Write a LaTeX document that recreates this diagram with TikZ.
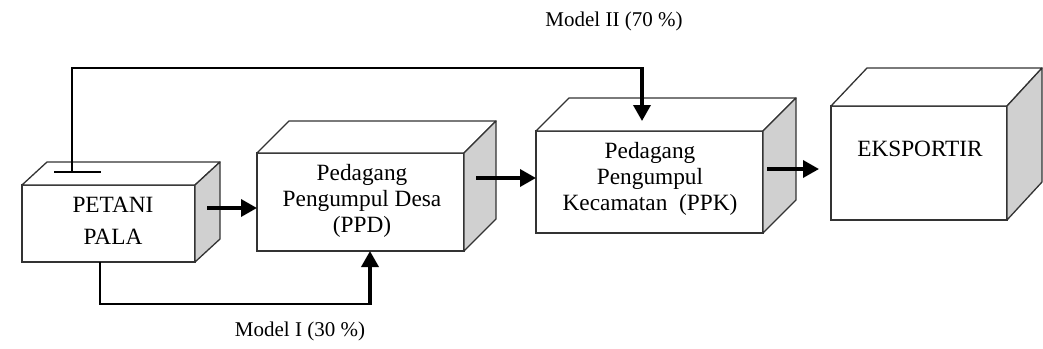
\documentclass[tikz,border=0pt]{standalone}
\usepackage{fontspec}
\setmainfont{Liberation Serif}
\usetikzlibrary{arrows.meta}
\definecolor{boxgray}{HTML}{333333}
\definecolor{sidegray}{HTML}{D0D0D0}
\begin{document}
\begin{tikzpicture}[x=1pt,y=-1pt,
  face/.style={draw=boxgray, line width=1.3pt, fill=white, inner sep=0pt, outer sep=0pt, anchor=north west},
  faceline/.style={draw=boxgray, line width=1.3pt, line join=round},
  flow/.style={line width=3.5pt, -{Triangle[length=16pt,width=17pt]}},
  link/.style={line width=1.6pt, line join=miter},
  lbl/.style={font=\fontsize{23.3}{26}\selectfont, align=center, inner sep=0pt},
  mlbl/.style={font=\fontsize{21}{24}\selectfont, inner sep=0pt}]
\useasboundingbox (0,0) rectangle (1043,348);
% Box 1
\node[face, minimum width=173pt, minimum height=77pt] (b1) at (22,185) {};
\draw[faceline, fill=white] (b1.north west) -- ++(25,-23) -- ++(173,0) -- (b1.north east) -- cycle;
\draw[faceline, fill=sidegray] (b1.north east) -- ++(25,-23) -- ++(0,77) -- (b1.south east) -- cycle;
% Box 2
\node[face, minimum width=207pt, minimum height=98pt] (b2) at (257,153) {};
\draw[faceline, fill=white] (b2.north west) -- ++(32,-32) -- ++(207,0) -- (b2.north east) -- cycle;
\draw[faceline, fill=sidegray] (b2.north east) -- ++(32,-32) -- ++(0,98) -- (b2.south east) -- cycle;
% Box 3
\node[face, minimum width=227pt, minimum height=102pt] (b3) at (536,131) {};
\draw[faceline, fill=white] (b3.north west) -- ++(33,-33) -- ++(227,0) -- (b3.north east) -- cycle;
\draw[faceline, fill=sidegray] (b3.north east) -- ++(33,-33) -- ++(0,102) -- (b3.south east) -- cycle;
% Box 4
\node[face, minimum width=176pt, minimum height=114pt] (b4) at (831,106) {};
\draw[faceline, fill=white] (b4.north west) -- ++(36,-38) -- ++(175,0) -- (b4.north east) -- cycle;
\draw[faceline, fill=sidegray] (b4.north east) -- ++(35,-38) -- ++(0,114) -- (b4.south east) -- cycle;
% Texts
\node[lbl, font=\fontsize{23.3}{32}\selectfont] (t1) at (113,221) {PETANI\\PALA};
\node[lbl] (t2) at (362,201) {Pedagang\\Pengumpul Desa\\(PPD)};
\node[lbl] (t3) at (650,179) {Pedagang\\Pengumpul\\Kecamatan\ \ (PPK)};
\node[lbl] (t4) at (920,149) {EKSPORTIR};
\node[mlbl] (m2) at (614,21) {Model II (70 \%)};
\node[mlbl] (m1) at (300,331) {Model I (30 \%)};
% Coordinates for connectors
\coordinate (tbarl) at (54,172);
\coordinate (tbarr) at (101,172);
\coordinate (tstart) at (72,172);
\coordinate (tcorner) at (642,68);
\coordinate (ttip) at (642,121);
\coordinate (bstart) at (100,262);
\coordinate (bcorner) at (370,304);
\coordinate (btip) at (370,251);
\coordinate (a1s) at (207,208);
\coordinate (a1e) at (257,208);
\coordinate (a2s) at (476,178);
\coordinate (a2e) at (536,178);
\coordinate (a3s) at (767,169);
\coordinate (a3e) at (819,169);
% Connectors
\draw[link] (tbarl) -- (tbarr);
\draw[link] (tstart) |- (tcorner);
\draw[flow] ([yshift=0.8pt]tcorner) -- (ttip);
\draw[link] (bstart) |- (bcorner);
\draw[flow] ([yshift=-0.8pt]bcorner) -- (btip);
\draw[flow] (a1s) -- (a1e);
\draw[flow] (a2s) -- (a2e);
\draw[flow] (a3s) -- (a3e);
\end{tikzpicture}
\end{document}
